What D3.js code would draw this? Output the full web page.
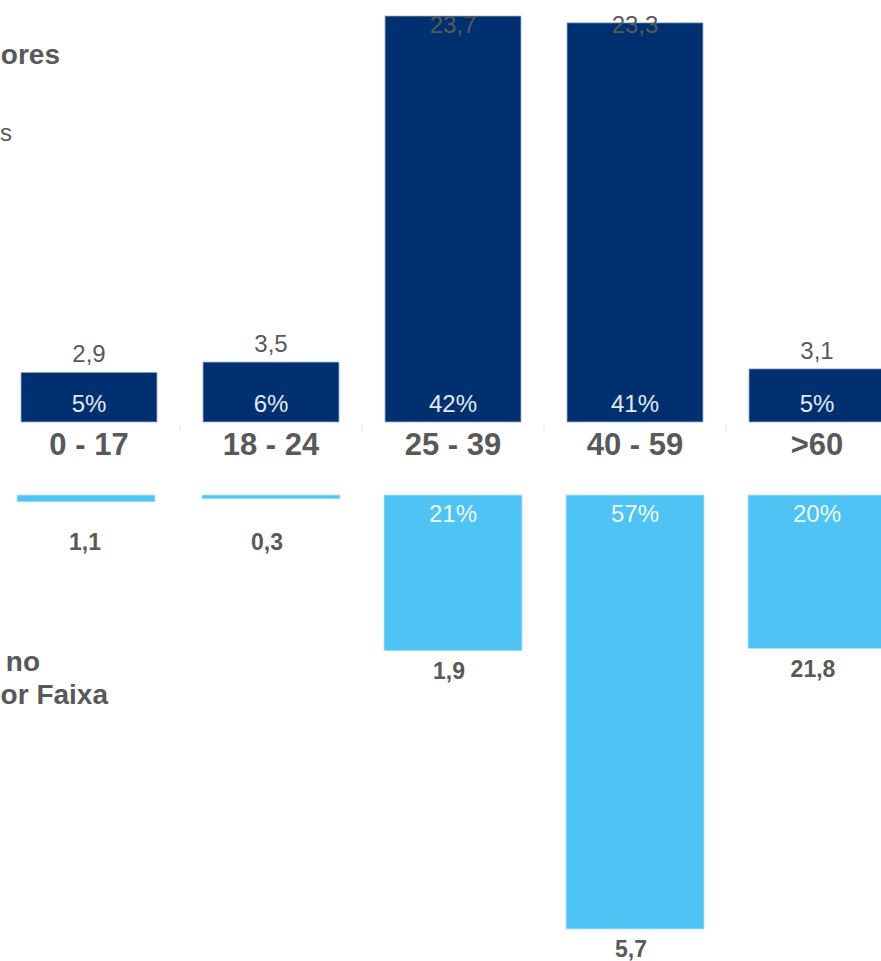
<!DOCTYPE html>
<html>
<head>
<meta charset="utf-8">
<script src="https://cdn.jsdelivr.net/npm/d3@7"></script>
<style>
  body { margin: 0; background: #fff; }
  svg { display: block; font-family: "Liberation Sans", Arial, sans-serif; }
</style>
</head>
<body>
<svg id="chart" width="881" height="961"></svg>
<script>
// faixas etarias
var categories = ["0 - 17", "18 - 24", "25 - 39", "40 - 59", ">60"];
// barras de cima (valor mostrado acima)
var topValues = [2.9, 3.5, 23.7, 23.3, 3.1];
// barras de baixo: participacao (%) e valor mostrado abaixo
var bottomShare = [0.9, 0.5, 20.5, 57.1, 20.2];
var bottomValues = [1.1, 0.3, 1.9, 5.7, 21.8];
// trechos de titulo visiveis na borda esquerda
var sideTexts = ["ores", "s", "no", "or Faixa"];

var navy = "#003070", sky = "#4fc3f4", grey = "#595959";

var svg = d3.select("#chart");
var fmt = function (v) { return d3.format(".1f")(v).replace(".", ","); };
var topTotal = d3.sum(topValues);

var x = d3.scaleBand().domain(categories)
  .range([-2, 908]).paddingInner(0.2527).paddingOuter(0.1264);

var yTop = d3.scaleLinear().domain([0, d3.max(topValues)]).range([422, 16]);
var yBot = d3.scaleLinear().domain([0, d3.max(bottomShare)]).range([495, 929]);

// titulos cortados a esquerda
var side = svg.append("g").attr("fill", grey).attr("text-anchor", "end");
side.append("text").attr("x", 60).attr("y", 64).attr("font-size", 28).attr("font-weight", "bold").text(sideTexts[0]);
side.append("text").attr("x", 12).attr("y", 141).attr("font-size", 24).text(sideTexts[1]);
side.append("text").attr("x", 40).attr("y", 671).attr("font-size", 28).attr("font-weight", "bold").text(sideTexts[2]);
side.append("text").attr("x", 108).attr("y", 704).attr("font-size", 28).attr("font-weight", "bold").text(sideTexts[3]);

// barras de cima
var gTop = svg.append("g");
gTop.selectAll("rect").data(topValues).enter().append("rect")
  .attr("x", function (d, i) { return x(categories[i]); })
  .attr("width", x.bandwidth())
  .attr("y", function (d) { return yTop(d); })
  .attr("height", function (d) { return yTop(0) - yTop(d); })
  .attr("fill", navy)
  .attr("stroke", "#9fb2cc").attr("stroke-width", 0.8);

gTop.selectAll("text.val").data(topValues).enter().append("text")
  .attr("class", "val")
  .attr("x", function (d, i) { return x(categories[i]) + x.bandwidth() / 2; })
  .attr("y", function (d) { return Math.max(yTop(d) - 10, 33); })
  .attr("text-anchor", "middle").attr("font-size", 24).attr("fill", grey)
  .text(fmt);

gTop.selectAll("text.pct").data(topValues).enter().append("text")
  .attr("class", "pct")
  .attr("x", function (d, i) { return x(categories[i]) + x.bandwidth() / 2; })
  .attr("y", yTop(0) - 10)
  .attr("text-anchor", "middle").attr("font-size", 24).attr("fill", "#e2e9f3")
  .text(function (d) { return Math.round(d / topTotal * 100) + "%"; });

// rotulos das faixas
svg.append("g").selectAll("text").data(categories).enter().append("text")
  .attr("x", function (d) { return x(d) + x.bandwidth() / 2; })
  .attr("y", 455)
  .attr("text-anchor", "middle").attr("font-size", 31).attr("font-weight", "bold").attr("fill", grey)
  .text(function (d) { return d; });

// pequenos tracos entre as faixas
svg.append("g").selectAll("line").data(categories.slice(1)).enter().append("line")
  .attr("x1", function (d) { return x(d) - x.step() * x.paddingInner() / 2; })
  .attr("x2", function (d) { return x(d) - x.step() * x.paddingInner() / 2; })
  .attr("y1", 425).attr("y2", 431)
  .attr("stroke", "#e4e4e4").attr("stroke-width", 1);

// barras de baixo
var gBot = svg.append("g");
gBot.selectAll("rect").data(bottomShare).enter().append("rect")
  .attr("x", function (d, i) { return x(categories[i]) - (i === 0 ? 4 : 1); })
  .attr("width", x.bandwidth() + 2)
  .attr("y", yBot(0))
  .attr("height", function (d) { return yBot(d) - yBot(0); })
  .attr("fill", sky)
  .attr("stroke", "#b5e6fb").attr("stroke-width", 0.8);

gBot.selectAll("text.pct").data(bottomShare).enter().append("text")
  .attr("class", "pct")
  .attr("x", function (d, i) { return x(categories[i]) + x.bandwidth() / 2; })
  .attr("y", yBot(0) + 27)
  .attr("text-anchor", "middle").attr("font-size", 24).attr("fill", "#eef8fe")
  .text(function (d) { return d >= 3 ? Math.round(d) + "%" : ""; });

gBot.selectAll("text.val").data(bottomValues).enter().append("text")
  .attr("class", "val")
  .attr("x", function (d, i) { return x(categories[i]) + x.bandwidth() / 2 - 4; })
  .attr("y", function (d, i) { return Math.max(yBot(bottomShare[i]) + 28, 550); })
  .attr("text-anchor", "middle").attr("font-size", 23).attr("font-weight", "bold").attr("fill", grey)
  .text(fmt);
</script>
</body>
</html>
